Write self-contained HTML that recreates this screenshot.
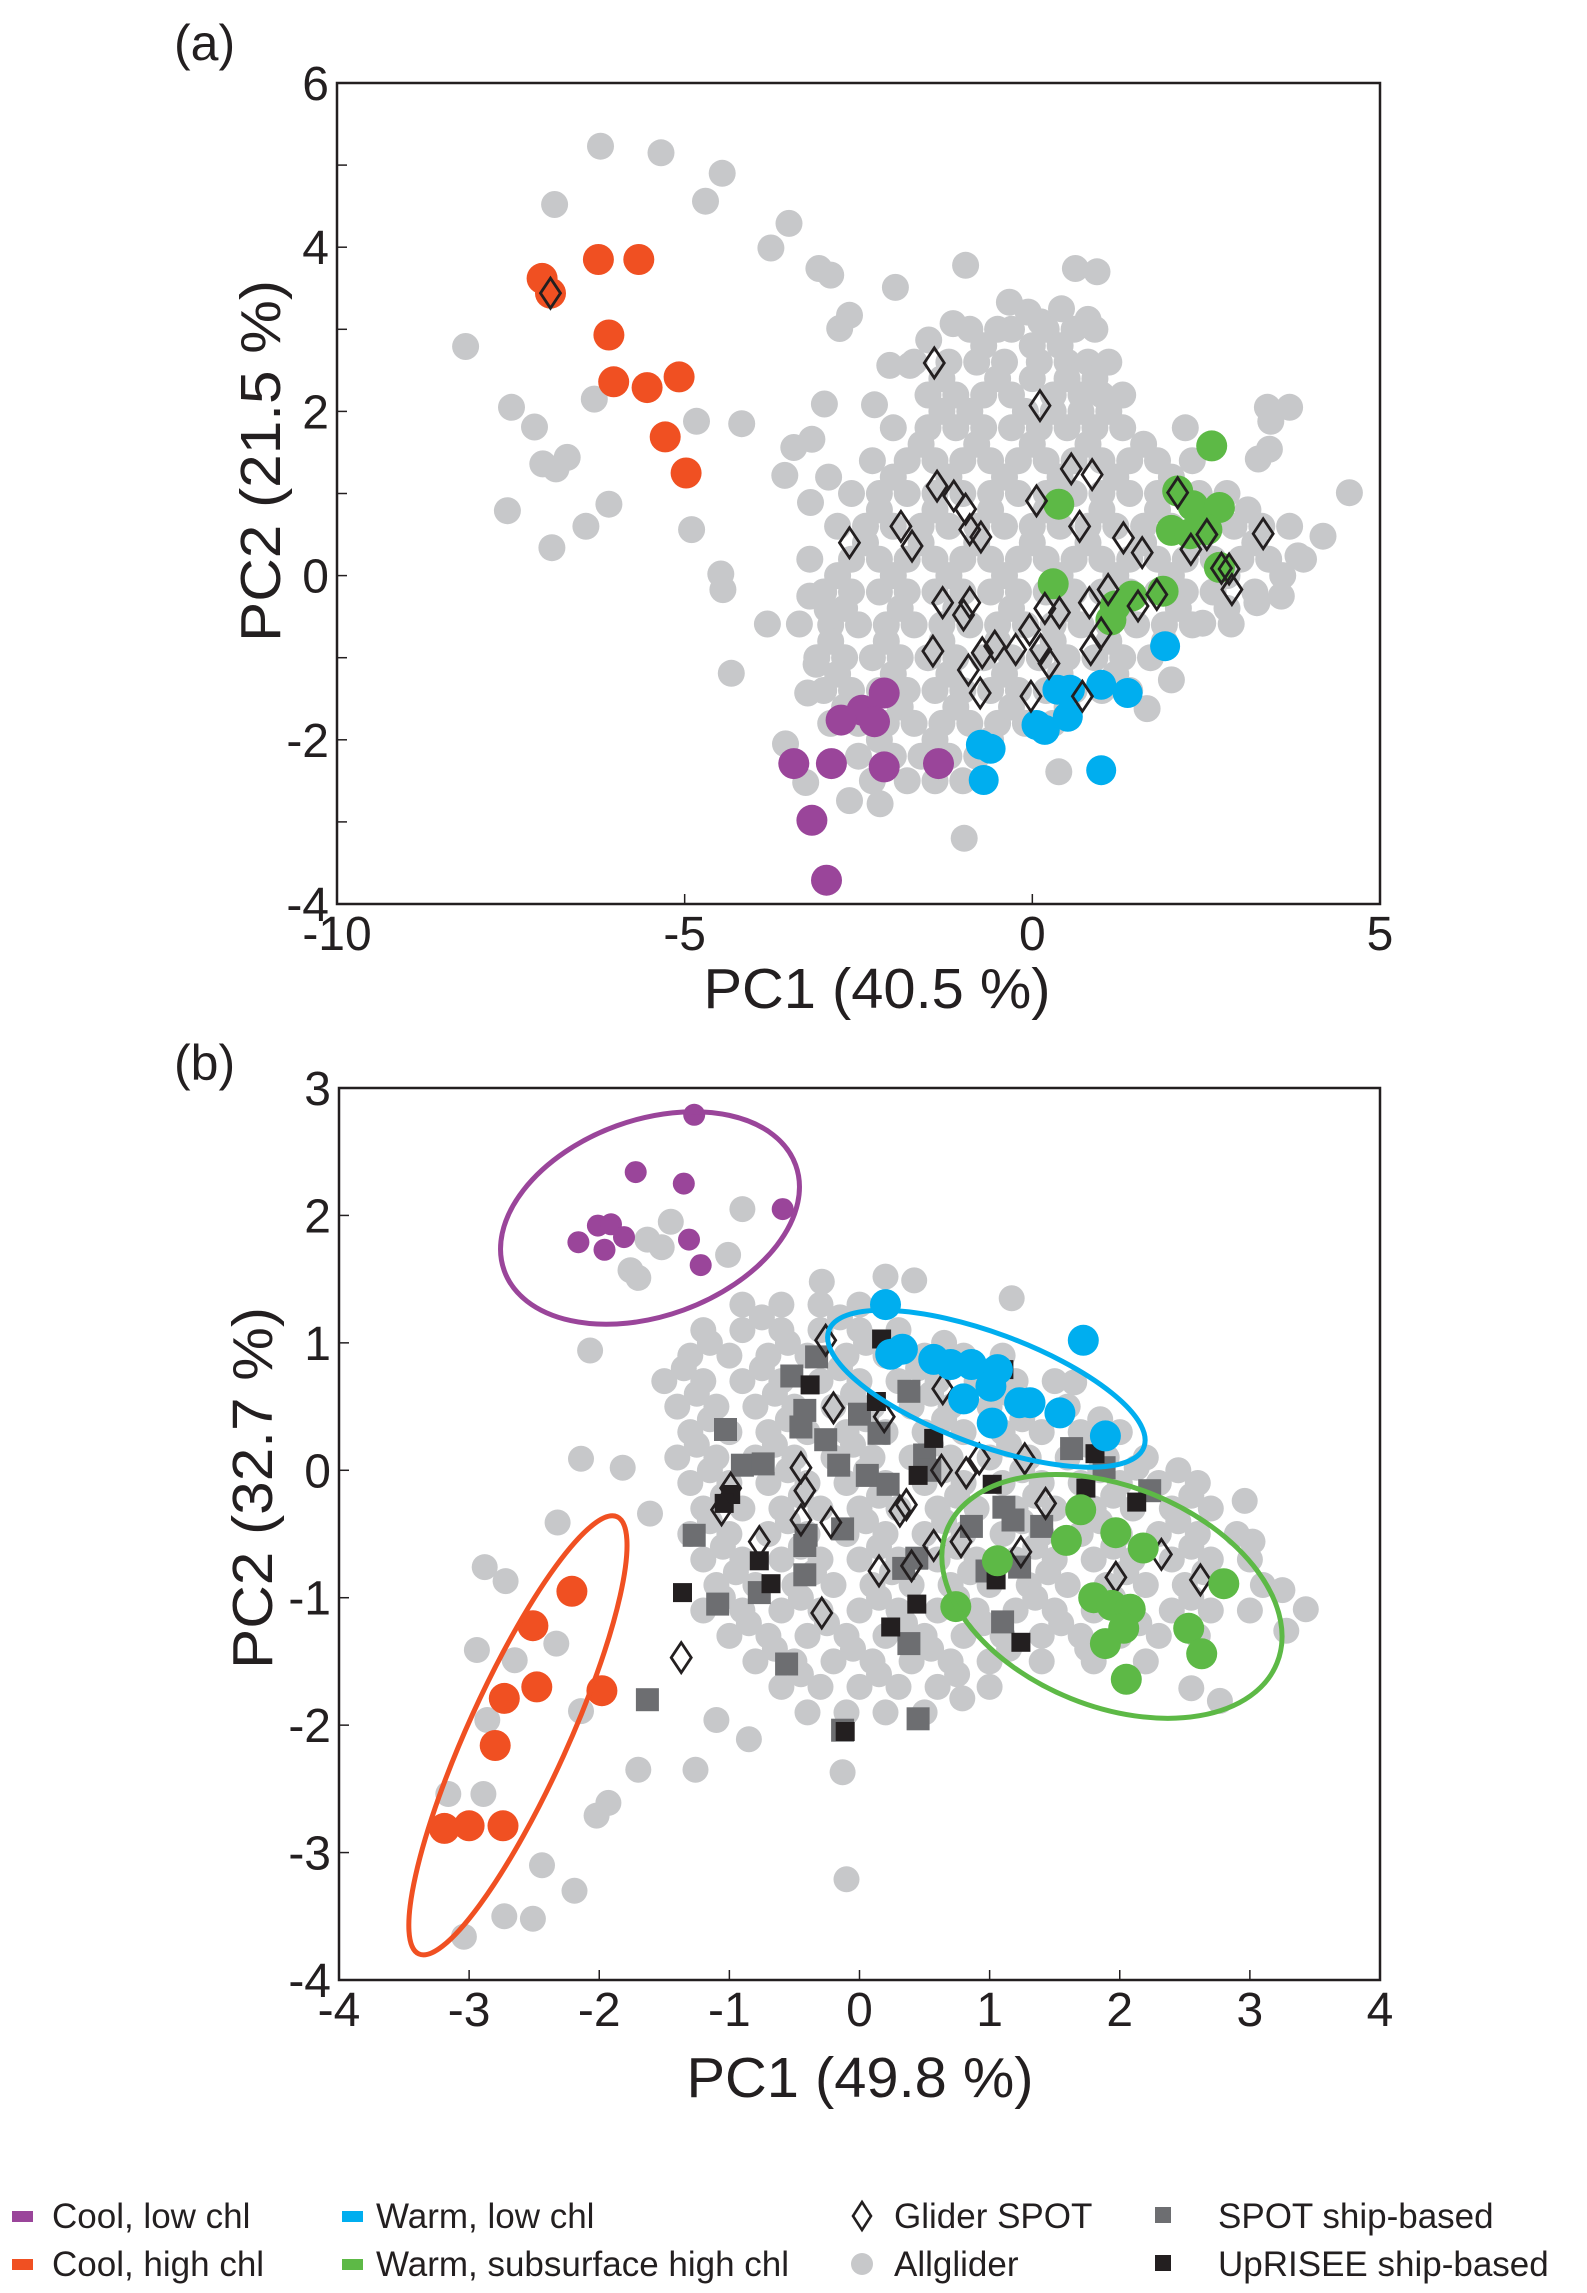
<!DOCTYPE html>
<html><head><meta charset="utf-8"><style>
html,body{margin:0;padding:0;background:#fff;}
svg{display:block;font-family:"Liberation Sans",Arial,sans-serif;}
</style></head><body>
<svg id="fig" width="1587" height="2293" viewBox="0 0 1587 2293" xmlns="http://www.w3.org/2000/svg">
<g id="gA"></g>
<g id="gB"></g>
<g id="legend"></g>
</svg>
<script>
// ---------- Panel (a) data ----------
const aXTicks=[-10,-5,0,5];
const aYTicks=[-4,-2,0,2,4,6];
const aGray=[[-6.21,5.23],[-5.34,5.15],[-4.46,4.9],[-6.87,4.52],[-4.7,4.56],[-3.5,4.29],[-3.76,3.99],[-3.07,3.74],[-2.9,3.66],[-1.97,3.51],[-0.96,3.78],[-8.15,2.79],[-7.49,2.05],[-7.16,1.81],[-7.04,1.36],[-6.85,1.3],[-6.69,1.44],[-7.55,0.79],[-6.09,0.87],[-6.42,0.6],[-6.91,0.34],[-6.3,2.15],[-4.83,1.88],[-4.18,1.85],[-4.9,0.56],[-4.48,0.02],[-4.45,-0.17],[-4.33,-1.19],[-3.81,-0.59],[-2.77,3.01],[-2.63,3.17],[-2.99,2.09],[-2.27,2.08],[-2.05,2.56],[-1.76,2.56],[-1.49,2.87],[-1.14,3.07],[-0.33,3.33],[-0.06,3.21],[0.12,3.09],[0.62,3.74],[0.93,3.7],[0.42,3.25],[0.8,3.12],[3.38,2.05],[3.7,2.05],[3.43,1.88],[3.25,1.42],[3.41,1.54],[4.56,1.01],[4.18,0.48],[3.82,0.24],[3.58,-0.25],[3.23,-0.33],[2.86,-0.59],[2.45,-0.58],[2.0,-1.27],[1.65,-1.62],[0.38,-2.39],[-0.98,-3.2],[-2.19,-2.78],[-2.63,-2.74],[-3.26,-2.52],[-3.55,-2.05],[-3.23,-1.43],[-3.11,-1.08],[-3.2,-0.25],[-2.95,-0.41],[-3.19,0.89],[-3.56,1.22],[-3.43,1.56],[-3.17,1.66],[-2.93,1.2],[-3.35,-0.59],
[-0.9,3.0],[-0.5,3.0],[-0.3,3.0],[0.2,3.0],[0.6,3.0],[0.9,3.0],
[-1.7,2.6],[-1.2,2.6],[-0.8,2.6],[-0.4,2.6],[0.1,2.6],[0.5,2.6],[0.8,2.6],[1.1,2.6],
[-1.5,2.2],[-1.1,2.2],[-0.7,2.2],[-0.3,2.2],[0.3,2.2],[0.7,2.2],[1.0,2.2],[1.3,2.2],
[-2.0,1.8],[-1.5,1.8],[-1.1,1.8],[-0.7,1.8],[-0.3,1.8],[0.1,1.8],[0.5,1.8],[0.9,1.8],[1.3,1.8],[2.2,1.8],
[-2.3,1.4],[-1.8,1.4],[-1.4,1.4],[-1.0,1.4],[-0.6,1.4],[-0.2,1.4],[0.2,1.4],[0.6,1.4],[1.0,1.4],[1.4,1.4],[1.8,1.4],[2.3,1.4],
[-2.6,1.0],[-2.2,1.0],[-1.8,1.0],[-1.4,1.0],[-1.0,1.0],[-0.6,1.0],[-0.2,1.0],[0.2,1.0],[0.6,1.0],[1.0,1.0],[1.4,1.0],[1.8,1.0],[2.4,1.0],[2.8,1.0],
[-2.8,0.6],[-2.4,0.6],[-2.0,0.6],[-1.6,0.6],[-1.2,0.6],[-0.8,0.6],[-0.4,0.6],[0,0.6],[0.4,0.6],[0.8,0.6],[1.2,0.6],[1.6,0.6],[2.0,0.6],[2.9,0.6],[3.3,0.6],[3.7,0.6],
[-3.2,0.2],[-2.6,0.2],[-2.2,0.2],[-1.8,0.2],[-1.4,0.2],[-1.0,0.2],[-0.6,0.2],[-0.2,0.2],[0.2,0.2],[0.6,0.2],[1.0,0.2],[1.4,0.2],[1.8,0.2],[2.2,0.2],[2.6,0.2],[3.0,0.2],[3.4,0.2],[3.9,0.2],
[-3.0,-0.2],[-2.6,-0.2],[-2.2,-0.2],[-1.8,-0.2],[-1.4,-0.2],[-1.0,-0.2],[-0.6,-0.2],[-0.2,-0.2],[0.2,-0.2],[0.6,-0.2],[1.0,-0.2],[1.4,-0.2],[1.8,-0.2],[2.2,-0.2],[2.6,-0.2],[3.2,-0.2],
[-2.9,-0.6],[-2.5,-0.6],[-2.1,-0.6],[-1.7,-0.6],[-1.3,-0.6],[-0.9,-0.6],[-0.5,-0.6],[-0.1,-0.6],[0.3,-0.6],[0.7,-0.6],[1.1,-0.6],[1.5,-0.6],[1.9,-0.6],[2.3,-0.6],
[-3.1,-1.0],[-2.7,-1.0],[-2.3,-1.0],[-1.9,-1.0],[-1.5,-1.0],[-1.1,-1.0],[-0.7,-1.0],[-0.3,-1.0],[0.1,-1.0],[0.5,-1.0],[0.9,-1.0],[1.3,-1.0],[1.7,-1.0],
[-3.0,-1.4],[-2.6,-1.4],[-2.2,-1.4],[-1.8,-1.4],[-1.4,-1.4],[-1.0,-1.4],[-0.6,-1.4],[-0.2,-1.4],[0.2,-1.4],[0.6,-1.4],[1.0,-1.4],[1.4,-1.4],
[-2.9,-1.8],[-2.5,-1.8],[-2.1,-1.8],[-1.7,-1.8],[-1.3,-1.8],[-0.9,-1.8],[-0.5,-1.8],[-0.1,-1.8],[0.3,-1.8],
[-2.5,-2.2],[-2.0,-2.2],[-1.6,-2.2],[-1.2,-2.2],[-0.8,-2.2],
[-2.3,-2.5],[-1.8,-2.5],[-1.4,-2.5],[-1.0,-2.5],
[-0.7,2.8],[0.0,2.8],[0.4,2.8],[-1.3,2.4],[-0.5,2.4],[0.0,2.4],[0.5,2.4],[0.9,2.4],[-1.3,2.0],[-0.9,2.0],[-0.1,2.0],[0.3,2.0],[0.7,2.0],[1.1,2.0],
[-1.6,1.6],[-0.8,1.6],[0.0,1.6],[0.8,1.6],[1.6,1.6],[-2.0,1.2],[-1.2,1.2],[-0.4,1.2],[0.4,1.2],[1.2,1.2],[2.0,1.2],[-2.2,0.8],[-1.4,0.8],[-0.6,0.8],[0.2,0.8],[1.0,0.8],[1.8,0.8],[3.1,0.8],
[-2.4,0.4],[-1.6,0.4],[-0.8,0.4],[0.0,0.4],[0.8,0.4],[1.6,0.4],[2.4,0.4],[3.2,0.4],[-2.8,0.0],[-2.0,0.0],[-1.2,0.0],[-0.4,0.0],[0.4,0.0],[1.2,0.0],[2.0,0.0],[2.8,0.0],[3.6,0.0],
[-2.7,-0.4],[-1.9,-0.4],[-1.1,-0.4],[-0.3,-0.4],[0.5,-0.4],[1.3,-0.4],[2.1,-0.4],[2.8,-0.4],[-2.9,-0.8],[-2.1,-0.8],[-1.3,-0.8],[-0.5,-0.8],[0.3,-0.8],[1.1,-0.8],[1.9,-0.8],
[-2.8,-1.2],[-2.0,-1.2],[-1.2,-1.2],[-0.4,-1.2],[0.4,-1.2],[1.2,-1.2],[-2.7,-1.6],[-1.9,-1.6],[-1.1,-1.6],[-0.3,-1.6],[0.5,-1.6],[-2.2,-2.0],[-1.4,-2.0],[-0.6,-2.0]];
const aOrange=[[-7.05,3.62],[-6.93,3.44],[-6.24,3.85],[-5.66,3.85],[-6.09,2.93],[-6.02,2.36],[-5.54,2.29],[-5.08,2.42],[-5.28,1.69],[-4.98,1.25]];
const aPurple=[[-2.13,-1.43],[-2.45,-1.64],[-2.27,-1.78],[-2.75,-1.76],[-3.43,-2.29],[-2.89,-2.29],[-2.13,-2.33],[-1.35,-2.29],[-3.17,-2.98],[-2.96,-3.71]];
const aBlue=[[1.91,-0.86],[0.99,-1.33],[1.37,-1.43],[0.54,-1.39],[0.36,-1.39],[0.06,-1.82],[0.51,-1.72],[0.18,-1.88],[-0.74,-2.06],[-0.6,-2.11],[-0.7,-2.49],[0.99,-2.37]];
const aGreen=[[2.58,1.58],[0.38,0.87],[2.09,1.03],[2.31,0.85],[2.69,0.83],[2.0,0.55],[2.27,0.51],[2.51,0.56],[2.69,0.1],[0.3,-0.1],[1.19,-0.37],[1.43,-0.25],[1.88,-0.19],[1.13,-0.54]];
const aDiamond=[[-6.93,3.44],[-1.41,2.59],[0.11,2.07],[-1.37,1.09],[-1.13,0.97],[-0.96,0.81],[-0.9,0.56],[-0.74,0.47],[-1.89,0.6],[-1.73,0.36],[-2.63,0.4],[0.06,0.91],[0.56,1.3],[0.86,1.23],[0.68,0.6],[1.31,0.46],[1.58,0.28],[2.09,1.01],[2.51,0.5],[2.28,0.32],[3.32,0.51],[2.72,0.09],[2.83,0.08],[2.87,-0.17],[-1.29,-0.33],[-0.9,-0.33],[-0.99,-0.48],[-1.43,-0.92],[-0.92,-1.15],[-0.72,-0.94],[-0.54,-0.86],[-0.75,-1.43],[-0.24,-0.9],[-0.04,-0.66],[0.18,-0.4],[0.39,-0.45],[0.12,-0.9],[-0.02,-1.47],[0.24,-1.07],[0.72,-1.47],[0.84,-0.9],[0.99,-0.7],[0.82,-0.33],[1.09,-0.17],[1.52,-0.37],[1.79,-0.23]];

// ---------- Panel (b) data ----------
const bXTicks=[-4,-3,-2,-1,0,1,2,3,4];
const bYTicks=[-4,-3,-2,-1,0,1,2,3];
const bGray=[[-0.9,2.05],[-1.01,1.69],[-1.45,1.95],[-1.63,1.81],[-1.52,1.75],[-1.76,1.57],[-1.7,1.51],[-2.07,0.94],[-2.14,0.09],[-1.82,0.02],[-1.61,-0.34],[-2.32,-0.41],[-2.88,-0.76],[-2.72,-0.87],[-2.33,-1.36],[-2.94,-1.41],[-2.65,-1.49],[-2.14,-1.89],[-2.86,-1.96],[-1.7,-2.35],[-1.26,-2.35],[-3.16,-2.54],[-2.89,-2.54],[-1.93,-2.61],[-2.02,-2.71],[-2.44,-3.1],[-2.19,-3.3],[-2.73,-3.5],[-2.51,-3.52],[-3.04,-3.66],[-0.1,-3.21],[-0.13,-2.37],[-0.85,-2.11],[-1.1,-1.96],[0.79,-1.79],[1.17,1.35],[0.42,1.49],[0.2,1.52],[-0.29,1.48],[2.96,-0.24],[3.02,-0.56],[3.25,-0.94],[3.43,-1.09],[3.28,-1.26],[2.77,-1.81],[2.55,-1.71],[2.13,0.02],[1.65,0.69],
[-0.9,1.3],[-0.6,1.3],[-0.3,1.3],[0.0,1.3],
[-1.2,1.1],[-0.9,1.1],[-0.6,1.1],[-0.3,1.1],[0.0,1.1],[0.3,1.1],
[-1.3,0.9],[-1.0,0.9],[-0.7,0.9],[-0.4,0.9],[-0.1,0.9],[0.2,0.9],[0.5,0.9],[0.8,0.9],[1.1,0.9],
[-1.5,0.7],[-1.2,0.7],[-0.9,0.7],[-0.6,0.7],[-0.3,0.7],[0.0,0.7],[0.3,0.7],[0.6,0.7],[0.9,0.7],[1.2,0.7],[1.5,0.7],
[-1.4,0.5],[-1.1,0.5],[-0.8,0.5],[-0.5,0.5],[-0.2,0.5],[0.1,0.5],[0.4,0.5],[0.7,0.5],[1.0,0.5],[1.3,0.5],[1.6,0.5],
[-1.3,0.3],[-1.0,0.3],[-0.7,0.3],[-0.4,0.3],[-0.1,0.3],[0.2,0.3],[0.5,0.3],[0.8,0.3],[1.1,0.3],[1.4,0.3],[1.7,0.3],[2.0,0.3],
[-1.4,0.1],[-1.1,0.1],[-0.8,0.1],[-0.5,0.1],[-0.2,0.1],[0.1,0.1],[0.4,0.1],[0.7,0.1],[1.0,0.1],[1.3,0.1],[1.6,0.1],[1.9,0.1],[2.2,0.1],
[-1.3,-0.1],[-1.0,-0.1],[-0.7,-0.1],[-0.4,-0.1],[-0.1,-0.1],[0.2,-0.1],[0.5,-0.1],[0.8,-0.1],[1.1,-0.1],[1.4,-0.1],[1.7,-0.1],[2.0,-0.1],[2.3,-0.1],[2.6,-0.1],
[-1.2,-0.3],[-0.9,-0.3],[-0.6,-0.3],[-0.3,-0.3],[0.0,-0.3],[0.3,-0.3],[0.6,-0.3],[0.9,-0.3],[1.2,-0.3],[1.5,-0.3],[1.8,-0.3],[2.1,-0.3],[2.4,-0.3],[2.7,-0.3],
[-1.3,-0.5],[-1.0,-0.5],[-0.7,-0.5],[-0.4,-0.5],[-0.1,-0.5],[0.2,-0.5],[0.5,-0.5],[0.8,-0.5],[1.1,-0.5],[1.4,-0.5],[1.7,-0.5],[2.0,-0.5],[2.3,-0.5],[2.6,-0.5],[2.9,-0.5],
[-1.2,-0.7],[-0.9,-0.7],[-0.6,-0.7],[-0.3,-0.7],[0.0,-0.7],[0.3,-0.7],[0.6,-0.7],[0.9,-0.7],[1.2,-0.7],[1.5,-0.7],[1.8,-0.7],[2.1,-0.7],[2.4,-0.7],[2.7,-0.7],[3.0,-0.7],
[-1.1,-0.9],[-0.8,-0.9],[-0.5,-0.9],[-0.2,-0.9],[0.1,-0.9],[0.4,-0.9],[0.7,-0.9],[1.0,-0.9],[1.3,-0.9],[1.6,-0.9],[1.9,-0.9],[2.2,-0.9],[2.5,-0.9],[2.8,-0.9],[3.1,-0.9],
[-1.2,-1.1],[-0.9,-1.1],[-0.6,-1.1],[-0.3,-1.1],[0.0,-1.1],[0.3,-1.1],[0.6,-1.1],[0.9,-1.1],[1.2,-1.1],[1.5,-1.1],[1.8,-1.1],[2.1,-1.1],[2.4,-1.1],[2.7,-1.1],[3.0,-1.1],
[-1.0,-1.3],[-0.7,-1.3],[-0.4,-1.3],[-0.1,-1.3],[0.2,-1.3],[0.5,-1.3],[0.8,-1.3],[1.1,-1.3],[1.4,-1.3],[1.7,-1.3],[2.0,-1.3],[2.3,-1.3],[2.6,-1.3],
[-0.8,-1.5],[-0.5,-1.5],[-0.2,-1.5],[0.1,-1.5],[0.4,-1.5],[0.7,-1.5],[1.0,-1.5],[1.4,-1.5],[1.8,-1.5],[2.2,-1.5],
[-0.6,-1.7],[-0.3,-1.7],[0.0,-1.7],[0.3,-1.7],[0.6,-1.7],[1.0,-1.7],
[-0.4,-1.9],[-0.1,-1.9],[0.2,-1.9],[0.5,-1.9],
[-0.75,1.2],[-0.15,1.2],[-1.15,1.0],[-0.55,1.0],[0.05,1.0],[0.65,1.0],[-1.35,0.8],[-0.75,0.8],[-0.15,0.8],[0.45,0.8],[1.05,0.8],[-1.25,0.6],[-0.65,0.6],[-0.05,0.6],[0.55,0.6],[1.15,0.6],
[-1.15,0.4],[-0.55,0.4],[0.05,0.4],[0.65,0.4],[1.25,0.4],[1.85,0.4],[-1.25,0.2],[-0.65,0.2],[-0.05,0.2],[0.55,0.2],[1.15,0.2],[1.75,0.2],[-1.15,0.0],[-0.55,0.0],[0.05,0.0],[0.65,0.0],[1.25,0.0],[1.85,0.0],[2.45,0.0],
[-1.05,-0.2],[-0.45,-0.2],[0.15,-0.2],[0.75,-0.2],[1.35,-0.2],[1.95,-0.2],[2.55,-0.2],[-1.15,-0.4],[-0.55,-0.4],[0.05,-0.4],[0.65,-0.4],[1.25,-0.4],[1.85,-0.4],[2.45,-0.4],
[-1.05,-0.6],[-0.45,-0.6],[0.15,-0.6],[0.75,-0.6],[1.35,-0.6],[1.95,-0.6],[2.55,-0.6],[-0.95,-0.8],[-0.35,-0.8],[0.25,-0.8],[0.85,-0.8],[1.45,-0.8],[2.05,-0.8],[2.65,-0.8],
[-1.05,-1.0],[-0.45,-1.0],[0.15,-1.0],[0.75,-1.0],[1.35,-1.0],[1.95,-1.0],[2.55,-1.0],[-0.85,-1.2],[-0.25,-1.2],[0.35,-1.2],[0.95,-1.2],[1.55,-1.2],[2.15,-1.2],[-0.65,-1.4],[-0.05,-1.4],[0.55,-1.4],[1.15,-1.4],[1.75,-1.4],[-0.45,-1.6],[0.15,-1.6],[0.75,-1.6]];
const bSpotShip=[[-0.52,0.74],[-0.33,0.89],[-0.42,0.47],[-0.45,0.34],[-1.03,0.32],[-0.9,0.04],[-0.74,0.05],[-0.26,0.24],[-0.16,0.04],[0.0,0.44],[0.15,0.29],[0.38,0.62],[0.06,-0.04],[0.22,-0.11],[0.5,0.12],[0.54,0.0],[-1.27,-0.51],[-0.41,-0.51],[-0.42,-0.59],[-0.13,-0.46],[-0.42,-0.82],[-0.77,-0.96],[-1.09,-1.05],[0.34,-0.77],[0.44,-0.69],[0.86,-0.44],[1.11,-0.29],[1.18,-0.39],[1.4,-0.44],[1.63,0.17],[1.88,0.02],[2.23,-0.16],[0.98,-0.79],[1.23,-0.76],[1.1,-1.19],[0.38,-1.36],[-0.56,-1.52],[-1.63,-1.8],[0.45,-1.95],[-0.13,-2.04]];
const bUpriseShip=[[0.17,1.03],[-0.38,0.67],[0.13,0.54],[0.57,0.25],[0.45,-0.04],[-0.99,-0.19],[-1.04,-0.26],[1.02,-0.11],[1.11,0.79],[1.81,0.13],[1.74,-0.14],[2.13,-0.25],[-0.77,-0.71],[-0.68,-0.89],[-1.36,-0.96],[0.44,-1.05],[0.24,-1.23],[1.24,-1.35],[1.05,-0.86],[-0.11,-2.05]];
const bDiamond=[[-0.26,1.02],[-0.2,0.49],[0.64,0.64],[0.19,0.42],[-0.45,0.02],[-0.42,-0.16],[-0.99,-0.14],[-1.06,-0.31],[-0.45,-0.39],[-0.22,-0.41],[-0.77,-0.56],[0.31,-0.32],[0.36,-0.27],[0.63,0.0],[0.82,-0.02],[0.92,0.09],[1.27,0.09],[0.78,-0.56],[0.57,-0.59],[1.24,-0.64],[1.43,-0.26],[0.15,-0.79],[0.4,-0.75],[-0.29,-1.12],[1.97,-0.84],[2.32,-0.66],[2.62,-0.86],[-1.37,-1.47]];
const bPurple=[[-1.27,2.79],[-1.72,2.34],[-1.35,2.25],[-0.59,2.05],[-2.16,1.79],[-2.01,1.92],[-1.91,1.93],[-1.81,1.83],[-1.96,1.73],[-1.31,1.81],[-1.22,1.61]];
const bOrange=[[-2.21,-0.95],[-2.51,-1.22],[-2.48,-1.7],[-2.73,-1.79],[-1.98,-1.73],[-2.8,-2.16],[-3.19,-2.81],[-3.0,-2.79],[-2.74,-2.79]];
const bBlue=[[0.2,1.3],[0.24,0.91],[0.33,0.95],[0.57,0.87],[0.7,0.83],[0.86,0.83],[1.06,0.79],[0.8,0.56],[1.01,0.66],[1.23,0.53],[1.31,0.53],[1.02,0.37],[1.54,0.45],[1.72,1.02],[1.89,0.27]];
const bGreen=[[1.7,-0.31],[1.97,-0.49],[1.59,-0.55],[2.18,-0.61],[2.8,-0.89],[1.06,-0.71],[0.74,-1.07],[1.8,-1.0],[1.94,-1.06],[2.08,-1.09],[2.03,-1.24],[1.89,-1.36],[2.53,-1.24],[2.63,-1.44],[2.05,-1.64]];
const bEllipseCenters=[[-1.61,1.98],[-2.625,-2.08],[0.975,0.64],[1.94,-0.99]];

// ---------- helpers ----------
const NS='http://www.w3.org/2000/svg';
function mk(tag,attrs,parent){const e=document.createElementNS(NS,tag);for(const k in attrs)e.setAttribute(k,attrs[k]);parent.appendChild(e);return e;}
const xA=v=>337+(v+10)*(1043/15), yA=v=>83+(6-v)*(821/10);
const xB=v=>339+(v+4)*(1041/8), yB=v=>1088+(3-v)*(892/7);
const C={gray:'#c7c8ca',purple:'#9a459a',orange:'#f05022',blue:'#00aeef',green:'#5db946',dsq:'#6d6e71',bsq:'#231f20'};

function circles(pts,sx,sy,r,color,parent,name){
  const g=mk('g',{},parent);
  
  
  pts.forEach(p=>{const c=mk('circle',{cx:sx(p[0]).toFixed(1),cy:sy(p[1]).toFixed(1),r:r,fill:color},g);
    
    });
}
function squares(pts,sx,sy,s,color,parent,name){
  const g=mk('g',{},parent);
  
  
  pts.forEach(p=>{const c=mk('rect',{x:(sx(p[0])-s/2).toFixed(1),y:(sy(p[1])-s/2).toFixed(1),width:s,height:s,fill:color},g);
    
    });
}
function diamonds(pts,sx,sy,parent,name){
  const g=mk('g',{},parent);
  
  
  pts.forEach(p=>{const x=sx(p[0]),y=sy(p[1]);
    const d=mk('path',{d:`M${x},${y-15}L${x+10},${y}L${x},${y+15}L${x-10},${y}Z`,fill:'none',stroke:'#231f20','stroke-width':2.8},g);
    
    });
}
function axes(parent,sx,sy,xt,yt,L,T,R,B,allY,allX,xTitle,xTitleX,xTitleY,yTitle,yTitleX,yTitleY){
  const box=mk('rect',{x:L,y:T,width:R-L,height:B-T,fill:'none',stroke:'#231f20','stroke-width':2.5},parent);
  
  
  allX.forEach(v=>{mk('line',{x1:sx(v),x2:sx(v),y1:B,y2:B-10,stroke:'#231f20','stroke-width':1.5},parent);});
  allY.forEach(v=>{mk('line',{x1:L,x2:L+10,y1:sy(v),y2:sy(v),stroke:'#231f20','stroke-width':1.5},parent);});
  xt.forEach(v=>{const t=mk('text',{x:sx(v),y:B+46,'font-size':48,'text-anchor':'middle',fill:'#231f20'},parent);t.textContent=String(v);
    
    });
  yt.forEach(v=>{const t=mk('text',{x:L-8,y:sy(v)+17,'font-size':48,'text-anchor':'end',fill:'#231f20'},parent);t.textContent=String(v);
    
    });
  const xt2=mk('text',{x:xTitleX,y:xTitleY,'font-size':57,'text-anchor':'middle',fill:'#231f20',textLength:347,lengthAdjust:'spacingAndGlyphs'},parent);xt2.textContent=xTitle;
  
  
  const yt2=mk('text',{x:0,y:0,'font-size':57,'text-anchor':'middle',fill:'#231f20',textLength:362,lengthAdjust:'spacingAndGlyphs',transform:`translate(${yTitleX},${yTitleY}) rotate(-90)`},parent);yt2.textContent=yTitle;
  
  
}

// ---------- Panel (a) ----------
const gA=document.getElementById('gA');
const la=mk('text',{x:174,y:60,'font-size':50,fill:'#231f20'},gA);la.textContent='(a)';


circles(aGray,xA,yA,13.5,C.gray,gA,'allglider');
circles(aOrange,xA,yA,15.5,C.orange,gA,'cool-high-chl');
circles(aPurple,xA,yA,15.5,C.purple,gA,'cool-low-chl');
circles(aBlue,xA,yA,15,C.blue,gA,'warm-low-chl');
circles(aGreen,xA,yA,15.5,C.green,gA,'warm-subsurface-high-chl');
diamonds(aDiamond,xA,yA,gA,'glider-spot');
axes(gA,xA,yA,aXTicks,aYTicks,337,83,1380,904,[-4,-3,-2,-1,0,1,2,3,4,5,6],[-10,-5,0,5],'PC1 (40.5 %)',877,1008,'PC2 (21.5 %)',280,461);

// ---------- Panel (b) ----------
const gB=document.getElementById('gB');
const lb=mk('text',{x:174,y:1080,'font-size':50,fill:'#231f20'},gB);lb.textContent='(b)';


circles(bGray,xB,yB,13,C.gray,gB,'allglider');
squares(bSpotShip,xB,yB,23,C.dsq,gB,'spot-ship-based');
squares(bUpriseShip,xB,yB,19,C.bsq,gB,'uprisee-ship-based');
diamonds(bDiamond,xB,yB,gB,'glider-spot');
circles(bPurple,xB,yB,11,C.purple,gB,'cool-low-chl');
circles(bOrange,xB,yB,15.5,C.orange,gB,'cool-high-chl');
circles(bBlue,xB,yB,15.5,C.blue,gB,'warm-low-chl');
circles(bGreen,xB,yB,15.5,C.green,gB,'warm-subsurface-high-chl');
const ellStyle=[[155,98,-20,C.purple,'cool-low-chl-ellipse'],[240,50,-65.6,C.orange,'cool-high-chl-ellipse'],[168,56,20.3,C.blue,'warm-low-chl-ellipse'],[178,110,22,C.green,'warm-subsurface-high-chl-ellipse']];
bEllipseCenters.forEach((c,i)=>{const s=ellStyle[i];const cx=xB(c[0]),cy=yB(c[1]);
  const e=mk('ellipse',{cx:cx,cy:cy,rx:s[0],ry:s[1],fill:'none',stroke:s[3],'stroke-width':5,transform:`rotate(${s[2]} ${cx} ${cy})`},gB);
  
  });
axes(gB,xB,yB,bXTicks,bYTicks,339,1088,1380,1980,bYTicks,bXTicks,'PC1 (49.8 %)',860,2097,'PC2 (32.7 %)',272,1488);

// ---------- Legend ----------
const lg=document.getElementById('legend');
const legItems=[
 ['rect',12,2216,C.purple,'Cool, low chl',52,'legend-cool-low-chl'],
 ['rect',12,2264,C.orange,'Cool, high chl',52,'legend-cool-high-chl'],
 ['rect',342,2216,C.blue,'Warm, low chl',376,'legend-warm-low-chl'],
 ['rect',342,2264,C.green,'Warm, subsurface high chl',376,'legend-warm-subsurface-high-chl'],
 ['diamond',862,2216,null,'Glider SPOT',894,'legend-glider-spot'],
 ['circle',862,2264,C.gray,'Allglider',894,'legend-allglider'],
 ['sq',1163,2216,C.dsq,'SPOT ship-based',1218,'legend-spot-ship-based'],
 ['sq',1163,2264,C.bsq,'UpRISEE ship-based',1218,'legend-uprisee-ship-based']];
legItems.forEach(it=>{
  const g=mk('g',{},lg);
  
  
  if(it[0]==='rect') mk('rect',{x:it[1],y:it[2]-5,width:21,height:11,fill:it[3]},g);
  else if(it[0]==='diamond') mk('path',{d:`M${it[1]},${it[2]-14}L${it[1]+9},${it[2]}L${it[1]},${it[2]+14}L${it[1]-9},${it[2]}Z`,fill:'none',stroke:'#231f20','stroke-width':2.6},g);
  else if(it[0]==='circle') mk('circle',{cx:it[1],cy:it[2],r:11,fill:it[3]},g);
  else mk('rect',{x:it[1]-8,y:it[2]-9,width:16,height:16,fill:it[3]},g);
  const t=mk('text',{x:it[5],y:it[2]+12,'font-size':35,fill:'#231f20'},g);t.textContent=it[4];
});
</script>
</body></html>
